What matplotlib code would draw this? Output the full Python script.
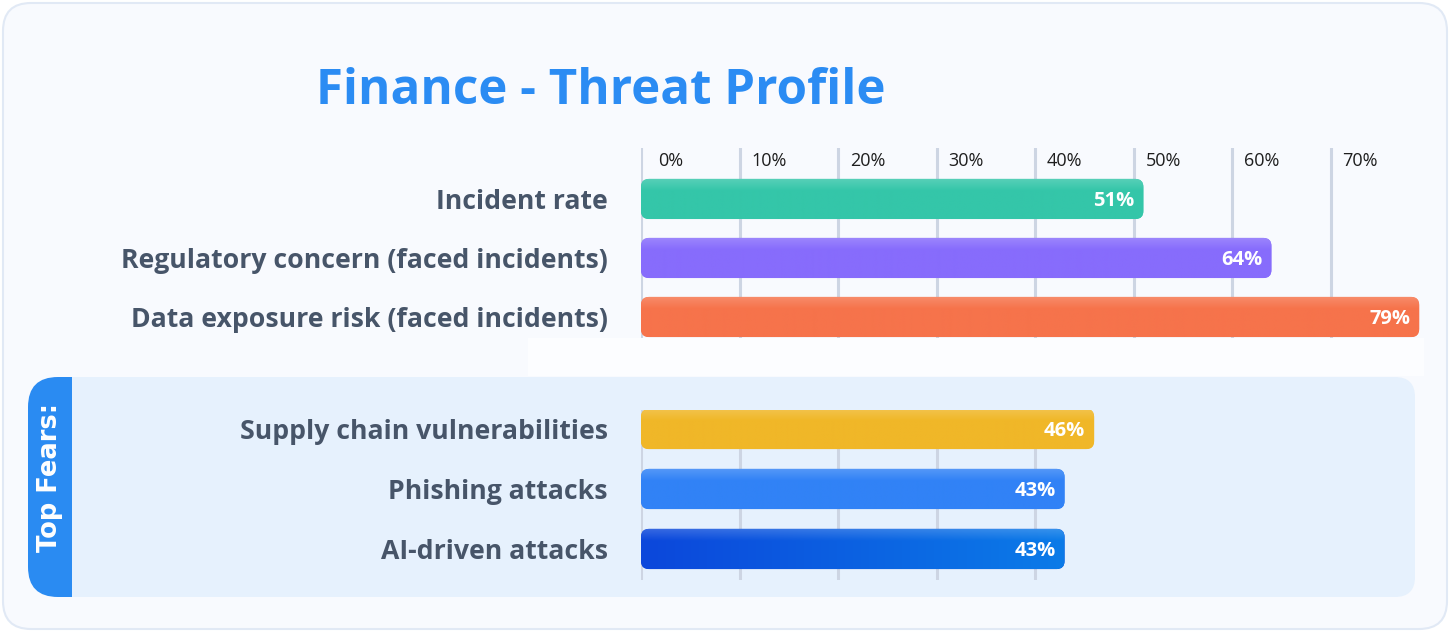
import numpy as np
import matplotlib.pyplot as plt
from matplotlib.patches import FancyBboxPatch, Rectangle
from matplotlib.colors import to_rgb

plt.rcParams['font.family'] = ['Open Sans', 'DejaVu Sans']

# ---- data ----
title = "Finance - Threat Profile"
ticks = [0, 10, 20, 30, 40, 50, 60, 70]
tick_labels = ["0%", "10%", "20%", "30%", "40%", "50%", "60%", "70%"]

profile_labels = ["Incident rate",
                  "Regulatory concern (faced incidents)",
                  "Data exposure risk (faced incidents)"]
profile_values = [51, 64, 79]
profile_colors = [("#34C6A9", "#34C6A9"), ("#876CFC", "#876CFC"), ("#F6734B", "#F6734B")]

fear_labels = ["Supply chain vulnerabilities", "Phishing attacks", "AI-driven attacks"]
fear_values = [46, 43, 43]
fear_colors = [("#F0B728", "#F0B728"), ("#3182F6", "#3182F6"), ("#0C47DB", "#0B7BE8")]

W, H = 1450, 632
LABEL_COL = "#475569"
GRID_COL = "#CDD5E3"

fig = plt.figure(figsize=(W / 100, H / 100), dpi=100)
fig.patch.set_facecolor("white")

# background canvas in pixel units
bg = fig.add_axes([0, 0, 1, 1])
bg.set_xlim(0, W)
bg.set_ylim(H, 0)
bg.axis("off")

bg.add_patch(FancyBboxPatch((3, 3), W - 6, H - 6, boxstyle="round,pad=0,rounding_size=28",
                            fc="#F8FAFE", ec="#E1E9F5", lw=1.5))
bg.add_patch(Rectangle((528, 338), 896, 38, fc="#FCFDFF", ec="none"))

# "Top Fears" panel
bg.add_patch(FancyBboxPatch((60, 377), 1355, 220, boxstyle="round,pad=0,rounding_size=20",
                            fc="#E6F1FD", ec="none"))
bg.add_patch(FancyBboxPatch((28, 377), 80, 220, boxstyle="round,pad=0,rounding_size=30",
                            fc="#2A8BF2", ec="none"))
bg.add_patch(Rectangle((72, 377), 50, 220, fc="#E6F1FD", ec="none"))
bg.text(50, 478, "Top Fears:", rotation=90, color="white", fontweight="bold",
        fontsize=18.5, ha="center", va="center", family="DejaVu Sans")

bg.text(316, 92, title, fontsize=35.5, fontweight="bold", color="#2B8CF3",
        ha="left", va="center")


def px_axes(x0, y0, x1, y1):
    return fig.add_axes([x0 / W, 1 - y1 / H, (x1 - x0) / W, (y1 - y0) / H])


def bar_fill(c_left, c_right, nrows=40, ncols=200):
    left = np.array(to_rgb(c_left))
    right = np.array(to_rgb(c_right))
    t = np.linspace(0, 1, ncols)[None, :, None]
    img = left * (1 - t) + right * t
    img = np.repeat(img, nrows, axis=0)
    # lighter top edge
    r = np.linspace(0, 1, nrows)[:, None, None]
    shine = np.clip(1 - r / 0.3, 0, 1) * 0.18
    return img * (1 - shine) + shine


def draw_bars(ax, labels, values, colors, ylim, h):
    xmax = 80
    pos = ax.get_position()
    wpx, hpx = pos.width * W, pos.height * H
    xpp = xmax / wpx
    ypp = abs(ylim[0] - ylim[1]) / hpx
    for i, (v, (cl, cr)) in enumerate(zip(values, colors)):
        patch = FancyBboxPatch((0, i - h / 2), v, h,
                               boxstyle=f"round,pad=0,rounding_size={8 * xpp}",
                               mutation_aspect=ypp / xpp, fc=cl, ec="none", zorder=2)
        ax.add_patch(patch)
        im = ax.imshow(bar_fill(cl, cr), extent=(0, v, i + h / 2, i - h / 2),
                       aspect="auto", zorder=3, interpolation="bilinear")
        im.set_clip_path(patch)
        ax.text(v - 9 * xpp, i + 0.03, f"{v}%", ha="right", va="center", color="white",
                fontweight="bold", fontsize=14.5, zorder=4)
    ax.set_xlim(0, xmax)
    ax.set_ylim(*ylim)
    ax.patch.set_visible(False)
    for s in ax.spines.values():
        s.set_visible(False)
    ax.set_xticks([t for t in ticks if t <= max(values)])
    ax.xaxis.grid(True, color=GRID_COL, lw=2.2)
    ax.set_axisbelow(True)
    ax.tick_params(axis="x", length=0, labelbottom=False)
    ax.set_yticks(range(len(labels)))
    ax.set_yticklabels(labels, fontsize=19.2, fontweight="bold", color=LABEL_COL)
    ax.tick_params(axis="y", length=0, pad=24)


top = px_axes(641, 148, 1429, 338)
draw_bars(top, profile_labels, profile_values, profile_colors, (2.356, -0.864), 0.68)
for t, lab in zip(ticks, tick_labels):
    top.text(t + 3, 0.93, lab, transform=top.get_xaxis_transform(), ha="center",
             va="center", fontsize=13, color="#1E1E1E")

bottom = px_axes(641, 410, 1429, 580)
draw_bars(bottom, fear_labels, fear_values, fear_colors, (2.517, -0.317), 0.67)

fig.savefig("out.png", dpi=100, facecolor="white")
